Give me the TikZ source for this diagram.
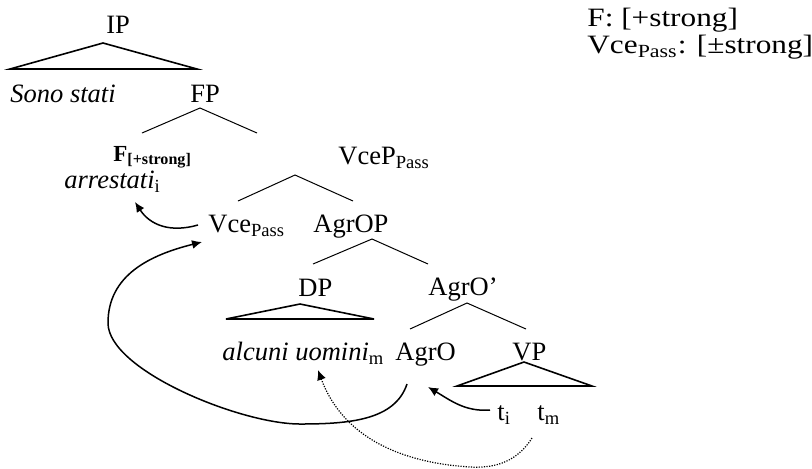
\documentclass[tikz,border=0pt]{standalone}
\usepackage{fontspec}
\setmainfont{Liberation Serif}
\usepackage{tikz}
\usetikzlibrary{positioning}
\usetikzlibrary{arrows.meta}

\begin{document}
\begin{tikzpicture}[x=0.5pt, y=-0.5pt,
labelnode/.style={inner sep=0pt, anchor=base west, font=\fontsize{13.25}{15}\selectfont},
headnode/.style={inner sep=0pt, anchor=base west, font=\fontsize{11.5}{13}\selectfont\bfseries},
legendnode/.style={inner sep=0pt, anchor=base west, align=left, font=\fontsize{13.25}{10.8}\selectfont},
branchline/.style={line width=0.5pt},
roofline/.style={line width=0.8pt},
movearrow/.style={line width=0.75pt, -{Latex[length=5pt, width=4.5pt]}},
dottedarrow/.style={line width=0.6pt, dash pattern=on 0.6pt off 0.7pt, -{Latex[length=5pt, width=4.5pt]}},
]
\useasboundingbox (0,0) rectangle (812,468);

%Nodes
\node[labelnode] (ip)   at (106,33)  {IP};
\node[labelnode] (sono) at (10,102)  {\itshape Sono stati};
\node[labelnode] (fp)   at (190,102) {FP};
\node[headnode]  (f)    at (113,161) {F\textsubscript{[+strong]}};
\node[labelnode] (arr)  at (64,188)  {\itshape arrestati\/\textsubscript{\upshape i}};
\node[labelnode] (vcep) at (338,164) {VceP\textsubscript{Pass}};
\node[labelnode] (vce)  at (208,232) {Vce\textsubscript{Pass}};
\node[labelnode] (agrop) at (313,232) {AgrOP};
\node[labelnode] (dp)   at (298,296) {DP};
\node[labelnode] (agrob) at (428,295) {AgrO’};
\node[labelnode] (alc)  at (222,360) {\itshape alcuni uomini\/\textsubscript{\upshape m}};
\node[labelnode] (agro) at (395,360) {AgrO};
\node[labelnode] (vp)   at (512,360) {VP};
\node[labelnode] (ti)   at (497,420) {t\textsubscript{i}};
\node[labelnode] (tm)   at (537,420) {t\textsubscript{m}};

\node[legendnode] (feat) at (587,53) {\scalebox{1.18}[1]{F: [+strong]}\\
  \scalebox{1.18}[1]{Vce\textsubscript{Pass}: [±strong]}};

%Lines
\draw[roofline] (10,69) -- (103,43) -- (197,69) -- cycle;
\draw[branchline] (142,133) -- (200,108) -- (257,133);
\draw[branchline] (238,201) -- (295,175) -- (353,201);
\draw[branchline] (313,264) -- (372,239) -- (428,264);
\draw[roofline] (226,319) -- (300,304) -- (374,319) -- cycle;
\draw[branchline] (410,329) -- (467,303) -- (526,329);
\draw[roofline] (457,386) -- (524,362) -- (592,386) -- cycle;

%Arrows
\draw[movearrow] ([shift={(-10,-7)}]vce.base west) .. controls +(-28,8) and +(15,23) .. ([shift={(71,14)}]arr.base west);
\draw[movearrow] ([shift={(12,24)}]agro.base west) .. controls (395,420) and (350,424) .. (300,424)
  .. controls (240,424) and (108,370) .. (108,323)
  .. controls (108,275) and (150,255) .. ([shift={(-6,10)}]vce.base west);
\draw[movearrow] ([shift={(-7,-10)}]ti.base west) .. controls +(-25,2) and +(22,13) .. ([shift={(33,27)}]agro.base west);
\draw[dottedarrow] ([shift={(-5,18)}]tm.base west) .. controls (515,465) and (490,468) .. (470,467)
  .. controls (390,462) and (340,430) .. ([shift={(96,10)}]alc.base west);
\end{tikzpicture}
\end{document}
